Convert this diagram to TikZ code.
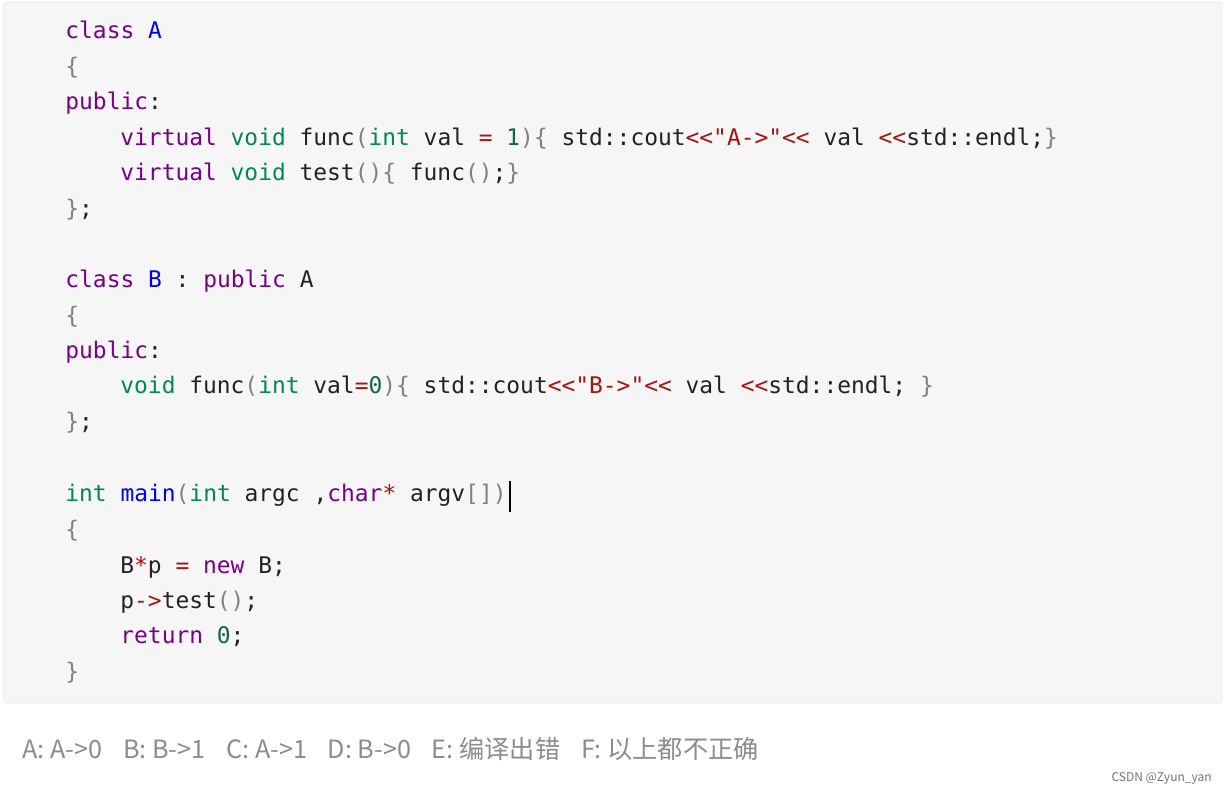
\documentclass[tikz,border=0pt]{standalone}
\usepackage{fontspec}
\setmonofont{DejaVu Sans Mono}
\newfontfamily\cjk{Noto Sans CJK SC}
\definecolor{kwc}{HTML}{770088}
\definecolor{tyc}{HTML}{008855}
\definecolor{nmc}{HTML}{0000FF}
\definecolor{stc}{HTML}{AA1111}
\definecolor{nuc}{HTML}{116644}
\definecolor{txc}{HTML}{222222}
\newcommand{\ckw}[1]{\textcolor{kwc}{#1}}
\newcommand{\cty}[1]{\textcolor{tyc}{#1}}
\newcommand{\cnm}[1]{\textcolor{nmc}{#1}}
\newcommand{\cstr}[1]{\textcolor{stc}{#1}}
\newcommand{\cnu}[1]{\textcolor{nuc}{#1}}
\newcommand{\cbr}[1]{\textcolor{gray}{#1}}
\tikzset{
  code/.style={anchor=base west,inner sep=0pt,font=\ttfamily\fontsize{11.45}{14}\selectfont,text=txc},
  answer/.style={anchor=base west,inner sep=0pt,font=\cjk\fontsize{12.6}{15}\selectfont,text=black!45},
}
\begin{document}
\begin{tikzpicture}[x=0.5pt,y=-0.5pt]
\useasboundingbox (0,0) rectangle (1226,794);
\fill[white](0,0)rectangle(1226,794);
\draw[black!8,fill=black!3.5,rounded corners=2pt](3,2)rectangle(1222,703);
\pgfmathsetmacro{\xa}{65}
\pgfmathsetmacro{\xb}{120}
\node[code](l1) at (\xa,38) {\ckw{class} \cnm{A}};
\node[code](l2) at (\xa,74) {\cbr{\{}};
\node[code](l3) at (\xa,109) {\ckw{public}:};
\node[code](l4) at (\xb,145) {\ckw{virtual} \cty{void} func\cbr{(}\cty{int} val \cstr{=} \cnu{1}\cbr{)\{} std::cout\cstr{<<"A->"<<} val \cstr{<<}std::endl;\cbr{\}}};
\node[code](l5) at (\xb,180) {\ckw{virtual} \cty{void} test\cbr{()\{} func\cbr{()};\cbr{\}}};
\node[code](l6) at (\xa,216) {\cbr{\}};};
\node[code](l7) at (\xa,287) {\ckw{class} \cnm{B} : \ckw{public} A};
\node[code](l8) at (\xa,323) {\cbr{\{}};
\node[code](l9) at (\xa,358) {\ckw{public}:};
\node[code](l10) at (\xb,393) {\cty{void} func\cbr{(}\cty{int} val\cstr{=}\cnu{0}\cbr{)\{} std::cout\cstr{<<"B->"<<} val \cstr{<<}std::endl; \cbr{\}}};
\node[code](l11) at (\xa,429) {\cbr{\}};};
\node[code](l12) at (\xa,501) {\cty{int} \cnm{main}\cbr{(}\cty{int} argc ,\ckw{char}\cstr{*} argv\cbr{[])}};
\node[code](l13) at (\xa,537) {\cbr{\{}};
\node[code](l14) at (\xb,573) {B\cstr{*}p \cstr{=} \ckw{new} B;};
\node[code](l15) at (\xb,608) {p\cstr{->}test\cbr{()};};
\node[code](l16) at (\xb,643) {\ckw{return} \cnu{0};};
\node[code](l17) at (\xa,679) {\cbr{\}}};
\draw[black,line width=0.6pt](l12.base east)++(3,-20)--++(0,31);
\node[answer](ans) at (22,758) {A: A->0\hspace{0.6em} B: B->1\hspace{0.6em} C: A->1\hspace{0.6em} D: B->0\hspace{0.6em} E: 编译出错\hspace{0.6em} F: 以上都不正确};
\node[anchor=base east,inner sep=0pt,font=\cjk\fontsize{6}{7}\selectfont,text=black!55](mark) at (1212,781) {CSDN @Zyun\_yan};
\end{tikzpicture}
\end{document}
